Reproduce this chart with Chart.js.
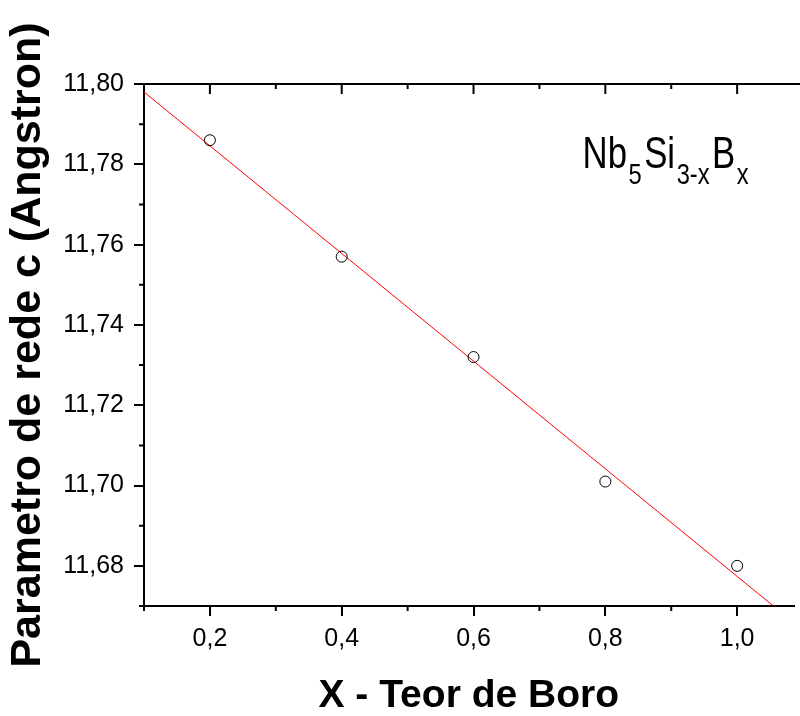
<!DOCTYPE html>
<html><head><meta charset="utf-8">
<script src="https://cdn.jsdelivr.net/npm/chart.js@4.4.1/dist/chart.umd.min.js"></script>
<style>html,body{margin:0;padding:0;background:#fff;overflow:hidden}canvas{display:block}</style>
</head><body>
<canvas id="c" width="800" height="716"></canvas>
<script>
// ---- data ----
const boronContent = [0.2, 0.4, 0.6, 0.8, 1.0];
const latticeC = [11.786, 11.757, 11.732, 11.701, 11.680];
const fitX = [0.1, 1.055];
const fitY = [11.798, 11.67];
const xTicks = [0.2, 0.4, 0.6, 0.8, 1.0];
const xMinorTicks = [0.1, 0.3, 0.5, 0.7, 0.9];
const yTicks = [11.68, 11.70, 11.72, 11.74, 11.76, 11.78, 11.80];
const yMinorTicks = [11.67, 11.69, 11.71, 11.73, 11.75, 11.77, 11.79];
const xTitle = 'X - Teor de Boro';
const yTitle = 'Parametro de rede c (Angstron)';
const formulaParts = [['Nb', false], ['5', true], ['Si', false], ['3-x', true], ['B', false], ['x', true]];

const FONT = "'Liberation Sans', Arial, Helvetica, sans-serif";

const extraAxes = {
  id: 'extraAxes',
  afterDraw(chart) {
    const ctx = chart.ctx, a = chart.chartArea;
    const xs = chart.scales.x, ys = chart.scales.y;
    ctx.save();
    ctx.strokeStyle = '#000';
    ctx.lineWidth = 2;
    ctx.beginPath();
    // top axis line
    ctx.moveTo(a.left - 1, a.top);
    ctx.lineTo(chart.width, a.top);
    // top axis inward ticks
    xTicks.forEach(v => { const p = xs.getPixelForValue(v); ctx.moveTo(p, a.top); ctx.lineTo(p, a.top + 10); });
    xMinorTicks.forEach(v => { const p = xs.getPixelForValue(v); ctx.moveTo(p, a.top); ctx.lineTo(p, a.top + 5); });
    // bottom minor ticks (outward)
    xMinorTicks.forEach(v => { const p = xs.getPixelForValue(v); ctx.moveTo(p, a.bottom); ctx.lineTo(p, a.bottom + 5); });
    // left minor ticks (outward)
    yMinorTicks.forEach(v => { const p = ys.getPixelForValue(v); ctx.moveTo(a.left, p); ctx.lineTo(a.left - 5, p); });
    ctx.stroke();

    // formula annotation (condensed like the reference)
    const sx = 0.79;
    let x = xs.getPixelForValue(0.7655);
    const base = ys.getPixelForValue(11.7792);
    ctx.fillStyle = '#000';
    ctx.textBaseline = 'alphabetic';
    ctx.textAlign = 'left';
    ctx.translate(x, base);
    ctx.scale(sx, 1);
    let cx = 0;
    formulaParts.forEach(([t, sub]) => {
      ctx.font = sub ? `30px ${FONT}` : `44px ${FONT}`;
      ctx.fillText(t, cx, sub ? 16 : 0);
      cx += ctx.measureText(t).width + (sub ? 3 : 2);
    });
    ctx.restore();
  }
};

const fmt = d => v => Number(v).toFixed(d).replace('.', ',');

new Chart(document.getElementById('c'), {
  type: 'scatter',
  data: {
    datasets: [
      {
        label: 'c',
        data: boronContent.map((x, i) => ({ x, y: latticeC[i] })),
        showLine: false,
        pointStyle: 'circle',
        pointRadius: 5.5,
        pointBorderWidth: 1,
        borderColor: '#000',
        backgroundColor: 'rgba(0,0,0,0)',
        pointBackgroundColor: 'rgba(0,0,0,0)'
      },
      {
        label: 'fit',
        data: fitX.map((x, i) => ({ x, y: fitY[i] })),
        showLine: true,
        borderColor: '#ff0000',
        borderWidth: 1,
        pointRadius: 0
      }
    ]
  },
  options: {
    responsive: false,
    maintainAspectRatio: false,
    animation: false,
    events: [],
    layout: { padding: { left: 0, right: 0, top: 84, bottom: 0 } },
    plugins: { legend: { display: false }, tooltip: { enabled: false }, title: { display: false } },
    scales: {
      x: {
        type: 'linear',
        position: 'bottom',
        min: 0.1,
        max: 1.0855,
        afterBuildTicks: s => { s.ticks = xTicks.map(v => ({ value: v })); },
        afterFit: s => { s.height = 110; s.paddingLeft = 0; s.paddingRight = 0; },
        ticks: { callback: fmt(1), color: '#000', padding: 8, maxRotation: 0, autoSkip: false,
                 font: { family: FONT, size: 25, lineHeight: 1.2 } },
        grid: { drawOnChartArea: false, drawTicks: true, tickLength: 10, color: '#000', lineWidth: 2 },
        border: { display: true, color: '#000', width: 2 },
        title: { display: true, text: xTitle, color: '#000', padding: { top: 0, bottom: 0 },
                 font: { family: FONT, size: 39, weight: 'bold', lineHeight: 1 } }
      },
      y: {
        type: 'linear',
        position: 'left',
        min: 11.67,
        max: 11.80,
        afterBuildTicks: s => { s.ticks = yTicks.map(v => ({ value: v })); },
        afterFit: s => { s.width = 144; s.paddingTop = 0; s.paddingBottom = 0; },
        ticks: { callback: fmt(2), color: '#000', padding: 10, autoSkip: false,
                 font: { family: FONT, size: 25, lineHeight: 1.2 } },
        grid: { drawOnChartArea: false, drawTicks: true, tickLength: 10, color: '#000', lineWidth: 2 },
        border: { display: true, color: '#000', width: 2 },
        title: { display: true, text: yTitle, color: '#000', padding: { top: 2, bottom: 0 },
                 font: { family: FONT, size: 43, weight: 'bold', lineHeight: 1.2 } }
      }
    }
  },
  plugins: [extraAxes]
});
</script>
</body></html>
